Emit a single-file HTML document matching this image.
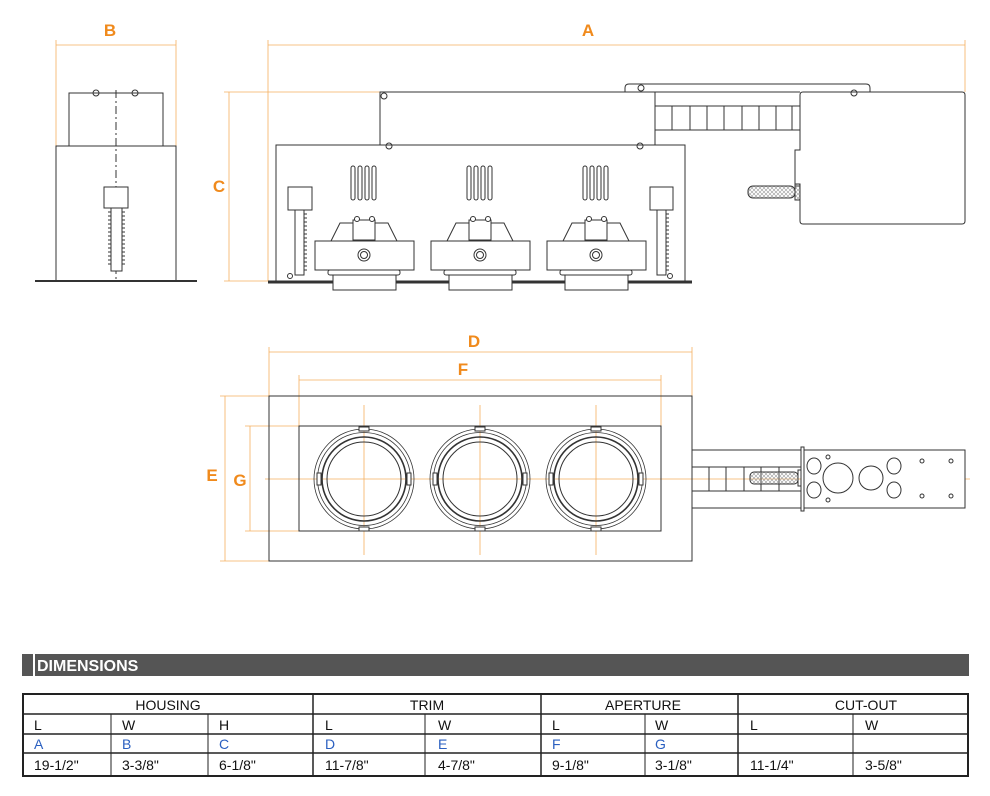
<!DOCTYPE html><html><head><style>body{margin:0;background:#fff}svg{display:block}</style></head><body>
<svg width="990" height="796" viewBox="0 0 990 796" xmlns="http://www.w3.org/2000/svg" font-family="Liberation Sans, sans-serif">
<defs>
<pattern id="h" width="4" height="4" patternUnits="userSpaceOnUse"><path d="M0 0L4 4M4 0L0 4" stroke="#999" stroke-width="0.6"/></pattern>
<g id="lamp" fill="#fff" stroke="#333" stroke-width="1">
<rect x="-13" y="166" width="4" height="34" rx="2" fill="none"/><rect x="-6" y="166" width="4" height="34" rx="2" fill="none"/><rect x="1" y="166" width="4" height="34" rx="2" fill="none"/><rect x="8" y="166" width="4" height="34" rx="2" fill="none"/>
<rect x="-31" y="275" width="63" height="15"/>
<rect x="-36" y="270" width="72" height="5" rx="2"/>
<path d="M-33 241L-24 223L24 223L33 241Z"/>
<rect x="-11" y="220" width="22" height="20"/>
<circle cx="-7" cy="219" r="2.5"/><circle cx="8" cy="219" r="2.5"/>
<rect x="-49" y="241" width="99" height="29"/>
<circle cx="0" cy="255" r="6"/><circle cx="0" cy="255" r="3.5"/>
</g>
<g id="ring" fill="none" stroke="#333">
<circle r="50" stroke-width="0.8"/><circle r="46.5" stroke-width="0.8"/><circle r="42" stroke-width="1.6"/><circle r="37"/>
<rect x="-47" y="-6" width="4" height="12" fill="#fff"/><rect x="43" y="-6" width="4" height="12" fill="#fff"/>
<rect x="-5" y="-52" width="10" height="4" fill="#fff"/><rect x="-5" y="48" width="10" height="4" fill="#fff"/>
</g>
<path id="ticks" d="M0 4h-3M0 8h-3M0 12h-3M0 16h-3M0 20h-3M0 24h-3M0 28h-3M0 32h-3M0 36h-3M0 40h-3M0 44h-3M0 48h-3M0 52h-3M0 56h-3M0 60h-3" stroke="#333" fill="none"/>
</defs>
<!-- orange dimension lines -->
<g stroke="#f5b060" stroke-width="0.8" fill="none">
<path d="M56 45H176M56 40V146M176 40V146"/>
<path d="M268 45H965M268 40V281M965 40V92"/>
<path d="M229 92V281M224 92H380M224 281H268"/>
<path d="M269 352H692M269 347V396M692 347V396M299 380H661M299 375V426M661 375V426"/>
<path d="M225 396V561M220 396H269M220 561H269M250 426V531M245 426H299M245 531H299"/>
<path d="M265 479H970M364 405V555M480 405V555M596 405V555M364 215V290M480 215V290M596 215V290"/>
</g>
<g fill="#f08a1c" font-size="17" font-weight="bold" text-anchor="middle">
<text x="110" y="36">B</text><text x="588" y="36">A</text><text x="219" y="192">C</text>
<text x="474" y="347">D</text><text x="463" y="375">F</text><text x="212" y="481">E</text><text x="240" y="486">G</text>
</g>
<!-- side view -->
<g stroke="#333" fill="none" stroke-width="1">
<rect x="69" y="93" width="94" height="53"/>
<rect x="56" y="146" width="120" height="135"/>
<path d="M35 281H197" stroke-width="2"/>
<path d="M116 90V281" stroke-dasharray="8 3 2 3"/>
<rect x="104" y="187" width="24" height="21" fill="#fff"/>
<rect x="111" y="208" width="11" height="63" fill="#fff"/>
<path d="M111 212H108M111 216H108M111 220H108M111 224H108M111 228H108M111 232H108M111 236H108M111 240H108M111 244H108M111 248H108M111 252H108M111 256H108M111 260H108M111 264H108M122 212H125M122 216H125M122 220H125M122 224H125M122 228H125M122 232H125M122 236H125M122 240H125M122 244H125M122 248H125M122 252H125M122 256H125M122 260H125M122 264H125"/>
<circle cx="96" cy="93" r="3"/><circle cx="135" cy="93" r="3"/>
</g>
<!-- front view -->
<g stroke="#333" fill="none" stroke-width="1">
<path d="M625 92V88Q625 84 629 84H866Q870 84 870 88V92"/>
<path d="M380 145V92H800"/>
<path d="M655 92V145"/>
<rect x="655" y="106" width="145" height="24"/>
<path d="M672 106V130M690 106V130M707 106V130M724 106V130M742 106V130M759 106V130M776 106V130M792 106V130"/>
<path d="M803 92H962Q965 92 965 95V221Q965 224 962 224H803Q800 224 800 221V186H795V172V160V150H800V95Q800 92 803 92Z" fill="#fff"/>
<rect x="748" y="186" width="47" height="12" rx="5" fill="url(#h)"/>
<rect x="795" y="184" width="5" height="16" fill="url(#h)"/>
<rect x="276" y="145" width="409" height="136" fill="#fff"/>
<path d="M268 282H692" stroke-width="3"/>
<circle cx="384" cy="96" r="3"/><circle cx="640" cy="146" r="3"/><circle cx="389" cy="146" r="3"/><circle cx="641" cy="88" r="3"/><circle cx="854" cy="93" r="3"/>
<rect x="288" y="187" width="24" height="23" fill="#fff"/><rect x="295" y="210" width="9" height="65"/>
<rect x="650" y="187" width="23" height="23" fill="#fff"/><rect x="657" y="210" width="9" height="65"/>
<circle cx="290" cy="276" r="2.5"/><circle cx="670" cy="276" r="2.5"/>
</g>
<use href="#ticks" x="304" y="210" transform="translate(608 0) scale(-1 1)"/>
<use href="#ticks" x="666" y="210" transform="translate(1332 0) scale(-1 1)"/>
<use href="#lamp" x="364"/><use href="#lamp" x="480"/><use href="#lamp" x="596"/>
<!-- top view -->
<g stroke="#333" fill="none" stroke-width="1">
<rect x="269" y="396" width="423" height="165"/>
<rect x="299" y="426" width="362" height="105"/>
<path d="M692 450H803M692 508H803"/>
<rect x="692" y="467" width="111" height="24"/>
<path d="M709 467V491M726 467V491M744 467V491M761 467V491M779 467V491"/>
<rect x="750" y="472" width="48" height="12" rx="4" fill="url(#h)"/>
<rect x="798" y="470" width="5" height="16"/>
<rect x="803" y="450" width="162" height="58" fill="#fff"/>
<rect x="801" y="447" width="3" height="64" fill="#fff"/>
<ellipse cx="814" cy="466" rx="7" ry="8"/><ellipse cx="814" cy="490" rx="7" ry="8"/>
<ellipse cx="894" cy="466" rx="7" ry="8"/><ellipse cx="894" cy="490" rx="7" ry="8"/>
<circle cx="838" cy="478" r="15"/><circle cx="871" cy="478" r="12"/>
<circle cx="828" cy="457" r="2"/><circle cx="828" cy="500" r="2"/><circle cx="922" cy="461" r="2"/><circle cx="951" cy="461" r="2"/><circle cx="922" cy="496" r="2"/><circle cx="951" cy="496" r="2"/>
</g>
<use href="#ring" x="364" y="479"/><use href="#ring" x="480" y="479"/><use href="#ring" x="596" y="479"/>
<!-- table -->
<rect x="22" y="654" width="947" height="22" fill="#555"/>
<rect x="33" y="654" width="2" height="22" fill="#fff"/>
<text x="37" y="671" fill="#fff" font-size="16" font-weight="bold">DIMENSIONS</text>
<g stroke="#222" fill="none">
<rect x="23" y="694" width="945" height="82" stroke-width="2"/>
<path d="M23 714H968M23 734H968M23 753H968" stroke-width="1.5"/>
<path d="M313 694V776M541 694V776M738 694V776" stroke-width="1.5"/>
<path d="M111 714V776M208 714V776M425 714V776M645 714V776M853 714V776"/>
</g>
<g font-size="14" fill="#111">
<text x="168" y="710" text-anchor="middle">HOUSING</text><text x="427" y="710" text-anchor="middle">TRIM</text><text x="643" y="710" text-anchor="middle">APERTURE</text><text x="866" y="710" text-anchor="middle">CUT-OUT</text>
<text x="34" y="730">L</text><text x="122" y="730">W</text><text x="219" y="730">H</text><text x="325" y="730">L</text><text x="438" y="730">W</text><text x="552" y="730">L</text><text x="655" y="730">W</text><text x="750" y="730">L</text><text x="865" y="730">W</text>
<g fill="#2a5fc0"><text x="34" y="749">A</text><text x="122" y="749">B</text><text x="219" y="749">C</text><text x="325" y="749">D</text><text x="438" y="749">E</text><text x="552" y="749">F</text><text x="655" y="749">G</text></g>
<text x="34" y="770">19-1/2"</text><text x="122" y="770">3-3/8"</text><text x="219" y="770">6-1/8"</text><text x="325" y="770">11-7/8"</text><text x="438" y="770">4-7/8"</text><text x="552" y="770">9-1/8"</text><text x="655" y="770">3-1/8"</text><text x="750" y="770">11-1/4"</text><text x="865" y="770">3-5/8"</text>
</g>
</svg>
</body></html>
